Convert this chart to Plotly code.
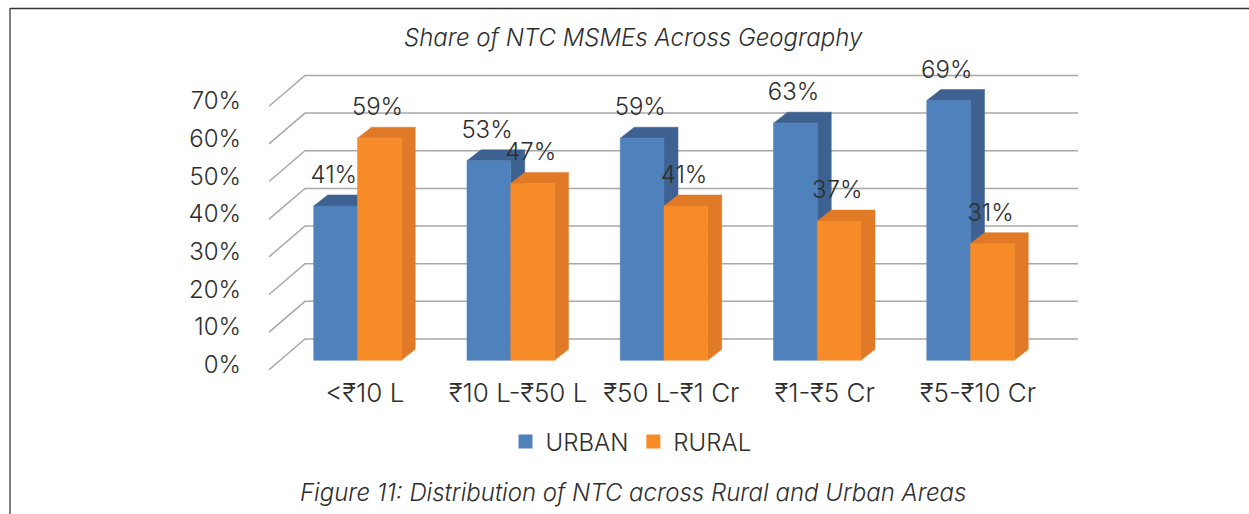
import plotly.graph_objects as go

categories = ["<₹10 L", "₹10 L-₹50 L", "₹50 L-₹1 Cr", "₹1-₹5 Cr", "₹5-₹10 Cr"]
urban = [41, 53, 59, 63, 69]
rural = [59, 47, 41, 37, 31]
y_ticks = [0, 10, 20, 30, 40, 50, 60, 70]
y_labels = ["0%", "10%", "20%", "30%", "40%", "50%", "60%", "70%"]

FONT = "Inter"
FS = 24
WEIGHT = 300
TXT = "#2E2E2E"
W, H = 1249, 514
L, R, T, B = 243, 149, 55, 139
xr = [-0.796, 4.796]
yr = [-2.79, 82.2]

# projection constants in data units
pair_shift = -0.049
bw = 0.2855
dx = 0.0914
dy = 2.92
base = 1.1
wall_left, wall_right, floor_left = -0.3915, 4.652, -0.626
wall_up = 6.77
floor_up = -1.4


def faces(values, left_offset):
    front_x, front_y, side_x, side_y = [], [], [], []
    for i, v in enumerate(values):
        x0 = i + pair_shift + left_offset
        x1 = x0 + bw
        top = v + base
        front_x += [x0, x1, x1, x0, x0, None]
        front_y += [base, base, top, top, base, None]
        side_x += [x1, x1 + dx, x1 + dx, x1, x1, None]
        side_y += [base, base + dy, top + dy, top, base, None]
        side_x += [x0, x0 + dx, x1 + dx, x1, x0, None]
        side_y += [top, top + dy, top + dy, top, top, None]
    return front_x, front_y, side_x, side_y


fnt = dict(family=FONT, size=FS, color=TXT, weight=WEIGHT)
fig = go.Figure()

gx, gy = [], []
for t in y_ticks:
    gx += [floor_left, wall_left, wall_right, None]
    gy += [t + floor_up, t + wall_up, t + wall_up, None]
fig.add_trace(go.Scatter(x=gx, y=gy, mode="lines", line=dict(color="#A8A8A8", width=1.5),
                         showlegend=False, hoverinfo="skip"))

series = [("URBAN", urban, -bw, "#4F81BD", "#3D6291"),
          ("RURAL", rural, 0.0, "#F68B28", "#E07A26")]
for name, vals, off, c_front, c_side in series:
    fx, fy, sx, sy = faces(vals, off)
    fig.add_trace(go.Scatter(x=sx, y=sy, mode="lines", fill="toself", fillcolor=c_side,
                             line=dict(width=0.5, color=c_side), showlegend=False, hoverinfo="skip"))
    fig.add_trace(go.Scatter(x=fx, y=fy, mode="lines", fill="toself", fillcolor=c_front,
                             line=dict(width=0.5, color=c_front), showlegend=False, hoverinfo="skip"))

for name, vals, off, c_front, c_side in series:
    fig.add_trace(go.Scatter(
        x=[i + pair_shift + off + bw / 2 - 0.012 for i in range(len(vals))],
        y=[v + 8.8 for v in vals], mode="text", text=[f"{v}%" for v in vals],
        textposition="middle center", textfont=fnt,
        showlegend=False, hoverinfo="skip"))

for name, vals, off, c_front, c_side in series:
    fig.add_trace(go.Scatter(x=[None], y=[None], mode="markers", name=name,
                             marker=dict(symbol="square", size=14, color=c_front)))

fig.update_layout(
    width=W, height=H, margin=dict(l=L, r=R, t=T, b=B, pad=0),
    paper_bgcolor="white", plot_bgcolor="white",
    font=fnt,
    xaxis=dict(range=xr, tickmode="array", tickvals=list(range(5)), ticktext=categories,
               showgrid=False, zeroline=False, showline=False, ticks="", ticklabelstandoff=0,
               tickfont=dict(family=FONT, size=26, color=TXT, weight=WEIGHT), fixedrange=True),
    yaxis=dict(range=yr, tickmode="array", tickvals=y_ticks, ticktext=y_labels,
               showgrid=False, zeroline=False, showline=False, ticks="", ticklabelstandoff=1,
               tickfont=fnt, fixedrange=True),
    legend=dict(orientation="h", x=(631 - L) / (W - L - R), xanchor="center",
                y=1 - (442 - T) / (H - T - B), yanchor="middle",
                font=dict(family=FONT, size=24, color=TXT, weight=WEIGHT), bgcolor="rgba(0,0,0,0)",
                itemsizing="trace", traceorder="normal"),
    showlegend=True,
)


def px(x):
    return (x - L) / (W - L - R)


def py(y):
    return 1 - (y - T) / (H - T - B)


fig.add_annotation(text="<i>Share of NTC MSMEs Across Geography</i>", xref="paper", yref="paper",
                   x=px(633), y=py(37), xanchor="center", yanchor="middle", showarrow=False, font=fnt)
fig.add_annotation(text="<i>Figure 11: Distribution of NTC across Rural and Urban Areas</i>", xref="paper",
                   yref="paper", x=px(633), y=py(492), xanchor="center", yanchor="middle", showarrow=False,
                   font=fnt)
fig.add_shape(type="line", xref="paper", yref="paper", x0=px(10), x1=px(W), y0=py(8.5), y1=py(8.5),
              line=dict(color="#333333", width=1.5))
fig.add_shape(type="line", xref="paper", yref="paper", x0=px(10), x1=px(10), y0=py(8), y1=py(H),
              line=dict(color="#555555", width=1.5))

fig.write_html("out.html", config={"displayModeBar": False},
               post_script="document.body.style.margin='0';")
